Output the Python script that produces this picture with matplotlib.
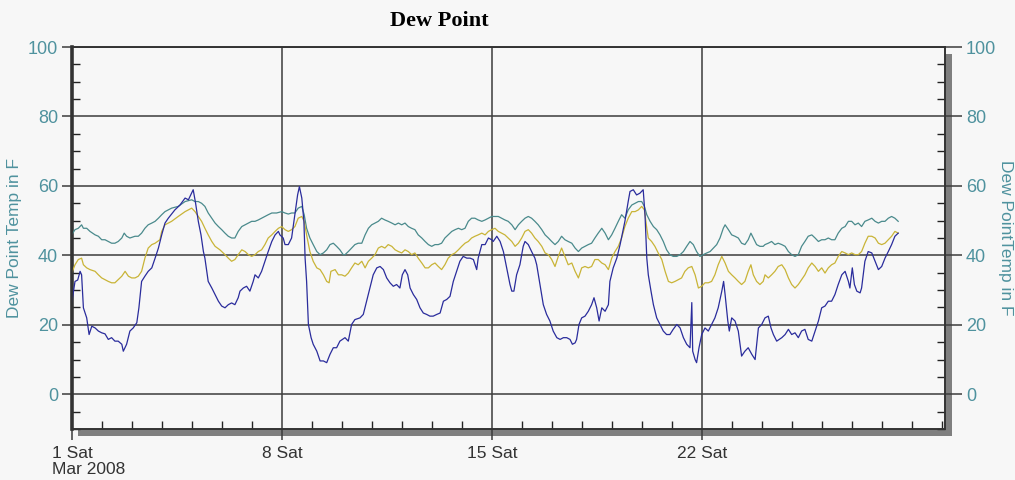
import matplotlib
matplotlib.use("Agg")
import matplotlib.pyplot as plt
from matplotlib.patches import Rectangle
from matplotlib.ticker import FixedLocator, MultipleLocator

# day of month (1.0 = Mar 1 00:00), dew point in F
blue_days = [0.99, 1.10, 1.19, 1.27, 1.32, 1.38, 1.49, 1.57, 1.66, 1.77, 1.88, 1.99, 2.10, 2.21, 2.32, 2.43,
             2.54, 2.66, 2.71, 2.82, 2.93, 3.04, 3.16, 3.23, 3.32, 3.43, 3.54, 3.66, 3.77, 3.88, 3.99, 4.10,
             4.21, 4.43, 4.60, 4.77, 4.88, 5.04, 5.12, 5.21, 5.30, 5.38,
             5.43, 5.54, 5.66, 5.77, 5.88, 5.99, 6.10, 6.21, 6.32, 6.43, 6.54, 6.60, 6.71, 6.82, 6.93, 7.04,
             7.10, 7.21, 7.32, 7.43, 7.54, 7.66, 7.77, 7.88, 7.93, 8.04, 8.10, 8.21, 8.32, 8.43, 8.52, 8.58,
             8.66, 8.73, 8.77, 8.82, 8.88, 8.97, 9.04, 9.16, 9.27, 9.38, 9.49, 9.60, 9.71, 9.82, 9.93,
             10.10, 10.21, 10.32, 10.43, 10.60, 10.71, 10.82, 10.93, 11.04, 11.16, 11.27, 11.38, 11.49, 11.60,
             11.71, 11.82, 11.93, 12.01, 12.10, 12.19, 12.27, 12.38, 12.49, 12.60, 12.71, 12.82, 12.93, 13.04,
             13.16, 13.27, 13.38, 13.49, 13.60, 13.71, 13.82, 13.93, 14.04, 14.16, 14.27, 14.38, 14.49, 14.54,
             14.66,
             14.77, 14.88, 14.99, 15.04, 15.16, 15.27, 15.38, 15.49, 15.60, 15.66, 15.73, 15.82, 15.93, 16.04,
             16.10, 16.21, 16.32, 16.43, 16.49, 16.60, 16.71, 16.82, 16.93, 17.04, 17.16, 17.27, 17.38, 17.49,
             17.60, 17.68, 17.77, 17.82, 17.90, 17.99, 18.10, 18.21, 18.32, 18.40, 18.49, 18.57, 18.66, 18.77,
             18.88, 18.93, 19.04, 19.16, 19.27, 19.38,
             19.43, 19.54, 19.60, 19.71, 19.82, 19.93, 20.04, 20.10, 20.16, 20.21, 20.30, 20.38, 20.49, 20.60,
             20.71, 20.82, 20.93, 21.04, 21.16, 21.27, 21.38, 21.49, 21.60, 21.66, 21.69, 21.77, 21.82, 21.90,
             21.99, 22.10, 22.21, 22.32, 22.43, 22.54, 22.66, 22.72, 22.77, 22.86, 22.91, 22.99, 23.10, 23.21,
             23.32, 23.43, 23.54, 23.66, 23.77, 23.88, 23.99,
             24.10, 24.21, 24.30, 24.38, 24.49, 24.66, 24.77, 24.88, 24.99, 25.10, 25.21, 25.32, 25.43, 25.54,
             25.66, 25.77, 25.88, 25.99, 26.10, 26.21, 26.32, 26.43, 26.54, 26.66, 26.77, 26.88, 26.93, 27.01,
             27.08, 27.16, 27.27, 27.32, 27.43, 27.54, 27.66, 27.77, 27.88, 27.99, 28.10, 28.21, 28.32, 28.43,
             28.54]
blue_vals = [26.3, 32.5, 32.9, 35.4, 34.4, 24.9, 22.0, 17.2, 19.6, 19.1, 18.2, 17.7, 17.4, 15.8, 16.3, 15.3,
             15.3, 14.4, 12.4, 14.4, 18.2, 19.1, 20.6, 24.9, 32.5, 34.0, 35.4, 36.4, 39.2, 42.1, 45.9, 49.3,
             50.7, 53.1, 54.5, 56.5, 56.0, 58.9, 55.0, 49.8, 45.9, 41.1,
             39.2, 32.5, 30.6, 28.7, 26.8, 25.4, 24.9, 25.8, 26.3, 25.8, 27.8, 29.7, 30.6, 31.1, 29.7, 32.5,
             34.4, 33.5, 35.4, 38.3, 41.1, 44.0, 45.9, 46.9, 45.9, 45.0, 43.1, 43.1, 45.0, 51.7, 57.4, 59.8,
             56.5, 49.8, 39.2, 32.5, 20.1, 16.3, 14.4, 12.4, 9.6, 9.6, 9.1, 11.5, 13.4, 13.4, 15.3,
             16.3, 15.3, 20.1, 21.5, 22.0, 23.0, 26.8, 30.6, 34.4, 36.4, 36.8, 35.9, 33.5, 32.1,
             31.1, 31.6, 30.6, 34.4, 35.9, 34.4, 30.6, 28.7, 27.3, 24.9, 23.4, 23.0, 22.5, 22.5,
             23.0, 23.4, 26.8, 27.3, 28.2, 32.5, 35.4, 38.3, 39.7, 39.2, 39.2, 38.8, 35.9, 39.2,
             43.1,
             43.1, 45.0, 44.5, 44.0, 45.5, 44.0, 41.1, 36.4, 31.6, 29.7, 29.7, 34.4, 37.3, 42.6,
             44.0, 43.1, 41.1, 39.2, 37.3, 31.6, 25.8, 23.0, 21.1, 18.2, 16.3, 15.8, 16.3, 16.3,
             15.8, 14.4, 14.8, 15.8, 20.1, 22.0, 22.5, 23.9, 25.8, 27.8, 24.9, 21.1, 24.9, 23.9,
             25.8, 32.5, 36.4, 39.2, 43.1, 47.8,
             49.8, 55.5, 58.4, 58.9, 57.4, 57.9, 58.9, 51.7, 39.2, 34.4, 29.7, 25.8, 22.0, 20.1,
             18.2, 17.2, 17.2, 18.7, 20.1, 19.1, 16.3, 14.4, 13.4, 26.4, 12.4, 10.0, 9.1, 13.4,
             17.2, 19.1, 18.2, 20.1, 22.0, 24.9, 29.7, 32.5, 28.7, 21.1, 18.2, 22.0, 21.1, 18.2,
             11.0, 12.4, 13.4, 11.5, 10.0, 19.1, 20.1,
             22.0, 22.5, 19.1, 17.2, 15.3, 16.3, 17.2, 18.7, 17.2, 17.7, 16.3, 18.2, 18.7, 15.8,
             15.3, 18.2, 21.1, 24.9, 25.4, 26.8, 26.8, 28.7, 31.6, 34.4, 35.4, 32.5, 30.6, 36.4,
             31.6, 29.7, 29.2, 30.6, 38.3, 41.1, 40.7, 38.3, 35.9, 36.8, 39.2, 41.1, 43.1, 45.5,
             46.4]

yellow_days = [0.99, 1.10, 1.21, 1.32, 1.38, 1.49, 1.60, 1.77, 1.88, 1.99, 2.10, 2.21, 2.32, 2.43, 2.54,
               2.66, 2.77, 2.88, 2.99, 3.10, 3.21, 3.32, 3.43, 3.54, 3.66, 3.77, 3.93, 3.99, 4.10, 4.32,
               4.54, 4.77, 4.99, 5.10, 5.21, 5.32,
               5.43, 5.54, 5.66, 5.77, 5.93, 6.10, 6.21, 6.32, 6.43, 6.54, 6.66, 6.77, 6.88, 6.99, 7.10,
               7.21, 7.32, 7.43, 7.54, 7.66, 7.77, 7.88, 7.99, 8.10, 8.21, 8.32, 8.43, 8.54, 8.66, 8.74,
               8.82, 8.93, 9.04, 9.16, 9.27, 9.38, 9.49, 9.57, 9.63, 9.77, 9.88, 9.99,
               10.10, 10.21, 10.32, 10.43, 10.54, 10.66, 10.77, 10.88, 10.99, 11.10, 11.21, 11.32, 11.43,
               11.54, 11.66, 11.77, 11.88, 11.99, 12.10, 12.21, 12.32, 12.43, 12.54, 12.66, 12.77, 12.88,
               12.99, 13.10, 13.21, 13.32, 13.43, 13.54, 13.66, 13.77, 13.88, 13.99, 14.10, 14.21, 14.32,
               14.43, 14.54, 14.66,
               14.77, 14.88, 14.99, 15.10, 15.21, 15.32, 15.43, 15.54, 15.66, 15.77, 15.88, 15.99, 16.10,
               16.21, 16.32, 16.43, 16.54, 16.66, 16.77, 16.88, 16.99, 17.10, 17.21, 17.32, 17.43, 17.54,
               17.66, 17.77, 17.88, 17.99, 18.10, 18.21, 18.32, 18.43, 18.54, 18.66, 18.77, 18.88, 18.99,
               19.10, 19.21, 19.32,
               19.43, 19.54, 19.66, 19.77, 19.88, 19.99, 20.08, 20.16, 20.21, 20.32, 20.43, 20.54, 20.66,
               20.77, 20.88, 20.99, 21.10, 21.21, 21.32, 21.43, 21.54, 21.66, 21.77, 21.88, 21.99, 22.10,
               22.21, 22.32, 22.43, 22.54, 22.66, 22.77, 22.88, 22.99, 23.10, 23.21, 23.32, 23.43, 23.54,
               23.63, 23.71, 23.82, 23.93, 24.04,
               24.10, 24.21, 24.32, 24.43, 24.54, 24.66, 24.77, 24.88, 24.99, 25.10, 25.21, 25.32, 25.43,
               25.54, 25.66, 25.77, 25.88, 25.99, 26.10, 26.21, 26.32, 26.43, 26.54, 26.66, 26.77, 26.88,
               26.99, 27.10, 27.21, 27.32, 27.43, 27.54, 27.66, 27.77, 27.88, 27.99, 28.10, 28.21, 28.32,
               28.43, 28.54]
yellow_vals = [34.9, 37.3, 38.8, 39.2, 37.3, 36.4, 35.9, 35.4, 34.4, 33.5, 33.0, 32.5, 32.1, 32.1, 33.0,
               34.0, 35.4, 34.0, 33.5, 33.5, 34.0, 35.4, 39.2, 42.1, 43.1, 43.5, 44.5, 46.9, 48.8, 49.8,
               51.2, 52.6, 53.6, 52.6, 51.2, 49.8,
               47.8, 45.9, 44.0, 42.6, 41.6, 40.2, 39.2, 38.3, 38.8, 40.2, 41.6, 41.1, 40.2, 39.7, 40.2,
               41.1, 41.6, 43.1, 45.0, 45.9, 46.9, 47.8, 48.3, 47.4, 46.9, 47.4, 48.3, 50.7, 51.2, 49.8,
               45.9, 41.1, 38.3, 36.4, 35.9, 34.4, 32.5, 32.1, 35.4, 35.9, 34.4, 34.4,
               34.0, 34.9, 36.4, 37.8, 37.3, 38.3, 36.4, 38.3, 39.2, 40.2, 42.1, 42.6, 42.1,
               43.1, 42.6, 41.6, 41.1, 40.7, 41.6, 41.1, 40.2, 40.7, 39.2, 37.8, 36.4, 36.4,
               37.3, 37.8, 36.8, 35.9, 37.3, 39.2, 40.2, 40.7, 41.6, 42.6, 43.5, 44.0, 45.0,
               45.5, 45.9, 46.4,
               45.9, 46.9, 47.4, 47.8, 46.9, 46.4, 45.9, 45.0, 44.0, 42.6, 43.5, 45.0, 46.9,
               47.4, 46.4, 45.0, 44.0, 42.6, 40.7, 40.2, 38.8, 36.8, 39.7, 42.1, 39.7, 37.3,
               37.8, 35.4, 33.5, 36.4, 36.8, 36.4, 36.8, 38.8, 38.8, 37.8, 37.3, 35.9, 39.2,
               41.1, 42.6, 45.0,
               48.3, 50.7, 52.6, 52.6, 53.1, 54.1, 53.1, 47.8, 45.0, 44.0, 42.6, 40.7, 38.8,
               35.4, 32.5, 32.1, 32.5, 33.0, 33.5, 35.4, 36.4, 36.8, 34.4, 30.6, 31.1, 32.1,
               32.1, 32.5, 34.4, 37.3, 39.7, 37.8, 35.4, 34.4, 33.5, 32.5, 31.6, 32.5, 35.4,
               37.3, 34.4, 32.5, 31.6, 32.5,
               34.4, 33.5, 34.4, 35.4, 36.8, 37.3, 35.9, 33.5, 31.6, 30.6, 31.6, 33.0, 34.4,
               36.4, 37.8, 36.8, 35.4, 36.4, 34.9, 36.4, 37.3, 37.8, 39.7, 41.1, 40.7, 40.2,
               40.7, 40.2, 40.2, 41.1, 43.5, 45.5, 45.5, 45.0, 43.5, 43.1, 43.5, 44.5, 45.5,
               46.9, 46.4]

teal_days = [0.99, 1.10, 1.21, 1.32, 1.38, 1.49, 1.60, 1.77, 1.88, 1.99, 2.10, 2.21, 2.32, 2.43, 2.54,
             2.66, 2.74, 2.82, 2.93, 3.10, 3.21, 3.32, 3.43, 3.54, 3.66, 3.77, 3.88, 3.99, 4.10, 4.21,
             4.32, 4.54, 4.77, 4.99, 5.10, 5.21, 5.32,
             5.43, 5.54, 5.66, 5.77, 5.88, 5.99, 6.10, 6.21, 6.32, 6.43, 6.54, 6.66, 6.77, 6.88, 6.99,
             7.10, 7.21, 7.32, 7.43, 7.54, 7.66, 7.82, 7.99, 8.10, 8.21, 8.32, 8.43, 8.54, 8.66, 8.74,
             8.82, 8.93, 9.04, 9.16, 9.27, 9.38, 9.49, 9.60, 9.71, 9.82, 9.93, 10.04,
             10.10, 10.21, 10.32, 10.43, 10.54, 10.66, 10.77, 10.88, 10.99, 11.10, 11.21, 11.32, 11.43,
             11.54, 11.66, 11.77, 11.88, 11.99, 12.10, 12.21, 12.32, 12.43, 12.54, 12.66, 12.77, 12.88,
             12.99, 13.10, 13.21, 13.32, 13.43, 13.54, 13.66, 13.77, 13.88, 13.99, 14.10, 14.21, 14.32,
             14.43, 14.54, 14.66,
             14.77, 14.88, 14.99, 15.10, 15.21, 15.32, 15.43, 15.54, 15.66, 15.77, 15.88, 15.99, 16.10,
             16.21, 16.32, 16.43, 16.54, 16.66, 16.77, 16.88, 16.99, 17.10, 17.21, 17.32, 17.43, 17.54,
             17.66, 17.77, 17.88, 17.99, 18.10, 18.21, 18.32, 18.43, 18.54, 18.66, 18.77, 18.88, 18.99,
             19.10, 19.21, 19.32,
             19.43, 19.54, 19.66, 19.77, 19.88, 19.99, 20.08, 20.16, 20.27, 20.38, 20.49, 20.60, 20.71,
             20.82, 20.93, 21.04, 21.16, 21.27, 21.38, 21.49, 21.60, 21.71, 21.82, 21.93, 22.04, 22.16,
             22.27, 22.38, 22.49, 22.60, 22.71, 22.77, 22.88, 22.99, 23.10, 23.21, 23.32, 23.43, 23.54,
             23.63, 23.71, 23.82, 23.93, 24.04,
             24.10, 24.21, 24.32, 24.43, 24.54, 24.66, 24.77, 24.88, 24.99, 25.10, 25.21, 25.32, 25.43,
             25.54, 25.66, 25.77, 25.88, 25.99, 26.10, 26.21, 26.32, 26.43, 26.54, 26.66, 26.77, 26.88,
             26.99, 27.10, 27.21, 27.32, 27.43, 27.54, 27.66, 27.77, 27.88, 27.99, 28.10, 28.21, 28.32,
             28.43, 28.54]
teal_vals = [45.9, 47.4, 47.8, 48.8, 47.8, 47.8, 46.9, 45.9, 45.5, 44.5, 44.5, 44.0, 43.5, 43.5, 44.0,
             45.0, 46.4, 45.5, 45.0, 45.5, 45.5, 46.4, 47.8, 48.8, 49.3, 49.8, 50.7, 51.7, 52.6, 53.1,
             53.6, 54.1, 55.5, 56.0, 55.5, 55.5, 55.0,
             54.1, 52.2, 50.7, 49.3, 48.3, 47.4, 46.4, 45.5, 45.0, 45.0, 46.9, 48.3, 48.8, 49.3, 49.8,
             49.8, 50.2, 50.7, 51.2, 51.7, 52.2, 52.2, 52.6, 52.2, 51.9, 52.2, 52.2, 53.6, 54.1, 51.7,
             47.8, 45.0, 43.1, 41.1, 40.2, 40.7, 41.6, 43.1, 43.5, 42.6, 41.6, 40.2,
             40.2, 41.1, 42.1, 43.1, 43.5, 43.5, 45.9, 47.8, 48.8, 49.3, 49.8, 50.7, 50.2,
             49.8, 49.3, 48.8, 49.3, 48.8, 49.3, 48.3, 47.8, 47.4, 45.9, 45.0, 44.0, 43.1,
             42.6, 43.1, 43.1, 43.5, 45.0, 45.9, 46.9, 47.4, 47.8, 47.4, 47.8, 49.8, 50.7,
             50.7, 50.2, 49.8,
             50.2, 50.7, 51.2, 51.2, 51.2, 50.7, 50.2, 49.8, 48.8, 47.4, 48.8, 49.8, 50.7,
             51.2, 50.7, 49.8, 48.8, 47.4, 45.9, 45.0, 44.0, 43.1, 44.0, 45.5, 44.5, 44.0,
             43.5, 42.1, 41.1, 42.1, 42.6, 43.1, 43.5, 45.0, 46.4, 47.8, 46.4, 44.5, 45.9,
             47.8, 49.8, 51.7,
             50.7, 53.1, 54.5, 55.0, 55.5, 55.5, 54.1, 51.7, 49.8, 48.3, 47.4, 45.9, 44.0,
             41.6, 40.2, 39.7, 39.7, 40.2, 41.1, 42.6, 44.0, 43.1, 41.1, 39.7, 40.2, 40.7,
             41.1, 42.1, 43.1, 45.0, 47.8, 48.8, 47.4, 45.9, 45.5, 45.0, 43.5, 43.1, 44.5,
             46.4, 45.0, 43.1, 42.6, 42.6,
             43.1, 43.5, 44.0, 43.1, 43.5, 43.1, 42.6, 41.1, 40.2, 39.7, 40.2, 42.6, 44.0,
             45.5, 45.9, 45.0, 44.0, 44.5, 44.5, 45.0, 44.5, 44.5, 46.4, 47.8, 48.3, 49.8,
             49.8, 48.8, 49.3, 48.3, 49.8, 50.2, 50.7, 49.8, 49.3, 49.8, 49.8, 50.7, 51.2,
             50.7, 49.8]

week_days = [1, 8, 15, 22]
week_labels = ["1 Sat", "8 Sat", "15 Sat", "22 Sat"]
y_ticks = [0, 20, 40, 60, 80, 100]

bg = "#f7f7f7"
label_col = "#4f929e"
grid_col = "#3c3c3c"
plt.rcParams["font.family"] = ["Liberation Sans", "DejaVu Sans"]

fig = plt.figure(figsize=(10.15, 4.8), dpi=100, facecolor=bg)
W, H = 1015, 480
x0, x1, y0, y1 = 72, 945, 47, 429   # axes box in pixels
ax = fig.add_axes([x0 / W, 1 - y1 / H, (x1 - x0) / W, (y1 - y0) / H])
ax.set_facecolor(bg)
ax.set_zorder(2)

# drop shadow on the right and bottom edges
fig.patches.append(Rectangle(((x0 + 6) / W, 1 - (y1 + 7) / H), (x1 - x0 + 1) / W, (y1 - y0) / H,
                             transform=fig.transFigure, facecolor="#7f7f7f", edgecolor="none", zorder=1))

ax.plot(teal_days, teal_vals, color="#4a8a8c", lw=0.9, zorder=3)
ax.plot(yellow_days, yellow_vals, color="#c9b437", lw=0.9, zorder=4)
ax.plot(blue_days, blue_vals, color="#2a2c9c", lw=0.9, zorder=5)

ax.set_xlim(1, 30.1)
ax.set_ylim(-10, 100)

for v in y_ticks:
    ax.axhline(v, color=grid_col, lw=1.1, zorder=2)
for d in week_days[1:]:
    ax.axvline(d, color=grid_col, lw=1.1, zorder=2)

# x axis: weekly labels, daily ticks inside
ax.xaxis.set_major_locator(FixedLocator(week_days))
ax.set_xticklabels(week_labels)
ax.xaxis.set_minor_locator(MultipleLocator(1))
ax.tick_params(axis="x", which="major", direction="out", length=8, width=1.1, color=grid_col,
               labelsize=12.5, labelcolor="#333333", pad=4)
ax.tick_params(axis="x", which="minor", direction="in", length=6, width=1, color="#222222")

# y axes on both sides
ax.set_yticks(y_ticks)
ax.yaxis.set_minor_locator(MultipleLocator(5))
ax.tick_params(axis="y", which="major", direction="out", length=7, width=1.1, color=grid_col,
               labelsize=13, labelcolor=label_col, pad=3)
ax.tick_params(axis="y", which="minor", direction="in", length=6, width=1, color="#222222")
ax.set_ylabel("Dew Point Temp in F", color=label_col, fontsize=12.5, labelpad=4)

ax2 = ax.twinx()
ax2.set_ylim(ax.get_ylim())
ax2.set_yticks(y_ticks)
ax2.yaxis.set_minor_locator(MultipleLocator(5))
ax2.tick_params(axis="y", which="major", direction="out", length=12, width=1.1, color=grid_col,
                labelsize=13, labelcolor=label_col, pad=3)
ax2.tick_params(axis="y", which="minor", direction="in", length=6, width=1, color="#222222")

for a in (ax, ax2):
    for s in a.spines.values():
        s.set_color("#333333")
        s.set_linewidth(1.2)
ax.spines["left"].set_linewidth(2.6)

fig.text(1005 / W, 1 - 238 / H, "Dew PointTemp in F", color=label_col, fontsize=12.5,
         rotation=270, ha="center", va="center")
fig.text(52 / W, 1 - 470 / H, "Mar 2008", fontsize=12.5, color="#333333", ha="left", va="center")
fig.text(439 / W, 1 - 21 / H, "Dew Point", fontsize=16, fontweight="bold", ha="center", va="center",
         family=["Liberation Serif", "DejaVu Serif"])

fig.savefig("out.png", dpi=100, facecolor=bg)
